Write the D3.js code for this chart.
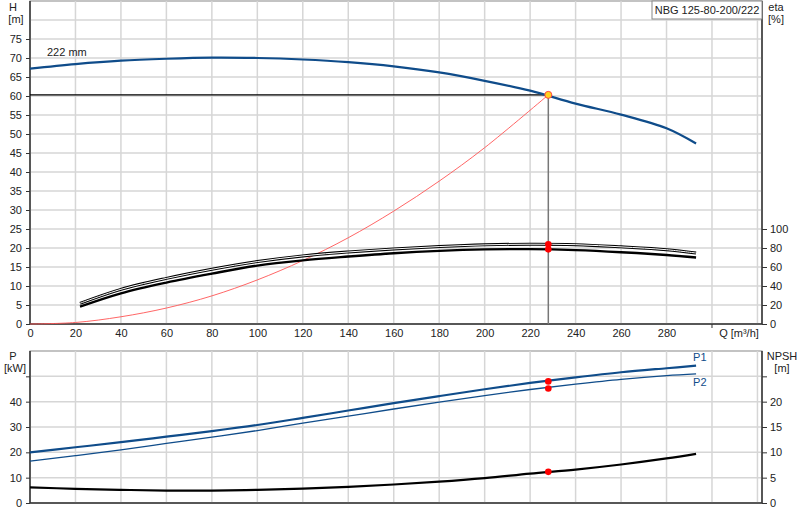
<!DOCTYPE html><html><head><meta charset="utf-8">
<script src="https://cdn.jsdelivr.net/npm/d3@7"></script>
<style>body{margin:0;background:#fff}text{font-family:"Liberation Sans",Arial,sans-serif;font-size:11px;fill:#222}</style>
</head><body><svg id="c" width="800" height="520"></svg>
<script>
const qH=[0,20,40,60,80,100,120,140,160,180,200,220,240,260,280,293];
const H=[67.2,68.4,69.3,69.8,70.1,70.0,69.6,68.9,67.8,66.2,64.0,61.4,58.0,55.1,51.5,47.5];
const qSys=[0,20,40,60,80,100,120,140,160,180,200,228];
const Hsys=[0,0.4,1.9,4.2,7.4,11.6,16.7,22.7,29.7,37.6,46.4,60.3];
const qEta=[22,40,60,80,100,120,140,160,180,200,220,240,260,280,293];
const etaUp=[21.8,36.5,48,57.6,65.7,71.7,75.8,79,81.5,83.3,84,83.5,81.2,78.2,74.7];
const etaLo=[18.3,32.3,43.6,53,61.5,67,71,74.5,77,78.5,78.8,77.8,75.6,72.6,70];
const qP=[0,20,40,60,80,100,120,140,160,180,200,220,240,260,280,293];
const P1=[20,22,24,26.2,28.4,30.8,33.6,36.5,39.4,42.2,44.9,47.4,49.6,51.6,53.2,54.2];
const P2=[16.5,18.7,21,23.5,26,28.6,31.5,34.3,37.1,39.8,42.4,44.8,46.9,48.8,50.3,51];
const qN=[0,20,40,60,80,100,120,140,160,180,200,220,240,260,280,293];
const NPSH=[3.1,2.8,2.6,2.45,2.45,2.6,2.85,3.2,3.65,4.2,4.9,5.8,6.6,7.6,8.8,9.7];
const op={q:228,h:60.3,etaU:84,etaL:78.6,p1:48,p2:45.2,npsh:6.15};
const qTicks=[0,20,40,60,80,100,120,140,160,180,200,220,240,260,280];
const title="NBG 125-80-200/222";

const svg=d3.select("#c");
const L=30,R=762;
const x=d3.scaleLinear().domain([0,322]).range([L,R]);
const yH=d3.scaleLinear().domain([0,85]).range([324,1]);
const yE=d3.scaleLinear().domain([0,340]).range([324,1]);
const yP=d3.scaleLinear().domain([0,60]).range([503,351]);
const yN=d3.scaleLinear().domain([0,30]).range([503,351]);
const grid="#d6d6d6";
function panel(y0,y1,ys,step,max){
  const g=svg.append("g");
  g.append("rect").attr("x",L).attr("y",y0).attr("width",R-L).attr("height",y1-y0).attr("fill","none").attr("stroke","#888");
  d3.range(20,321,20).forEach(v=>g.append("line").attr("x1",x(v)).attr("x2",x(v)).attr("y1",y0).attr("y2",y1).attr("stroke",grid).attr("stroke-width",1.5));
  d3.range(step,max+0.1,step).forEach(v=>g.append("line").attr("x1",L).attr("x2",R).attr("y1",ys(v)).attr("y2",ys(v)).attr("stroke",grid).attr("stroke-width",1.5));
  g.append("line").attr("x1",L).attr("x2",L).attr("y1",y0).attr("y2",y1).attr("stroke","#333").attr("stroke-width",1.5);
  g.append("line").attr("x1",R).attr("x2",R).attr("y1",y0).attr("y2",y1).attr("stroke","#333").attr("stroke-width",1.5);
  g.append("line").attr("x1",L).attr("x2",R).attr("y1",y1).attr("y2",y1).attr("stroke","#333").attr("stroke-width",1.5);
}
panel(1,324,yH,5,80);
panel(351,503,yP,10,50);
const ax=(g)=>{g.select(".domain").remove();g.selectAll("line").attr("stroke","#333");g.selectAll("text").style("font-size","11px");};
svg.append("g").attr("transform",`translate(${L},0)`).call(d3.axisLeft(yH).tickValues(d3.range(0,76,5)).tickSize(4).tickPadding(4)).call(ax);
svg.append("g").attr("transform",`translate(${R},0)`).call(d3.axisRight(yE).tickValues([0,20,40,60,80,100]).tickSize(5).tickPadding(3)).call(ax);
svg.append("g").attr("transform",`translate(0,324)`).call(d3.axisBottom(x).tickValues(qTicks).tickSize(0).tickPadding(5)).call(ax);
svg.append("line").attr("x1",x(300)).attr("x2",x(300)).attr("y1",324).attr("y2",328).attr("stroke","#333");
svg.append("g").attr("transform",`translate(${L},0)`).call(d3.axisLeft(yP).tickValues([0,10,20,30,40,50]).tickFormat(d=>d==50?"":d).tickSize(4).tickPadding(4)).call(ax);
svg.append("g").attr("transform",`translate(${R},0)`).call(d3.axisRight(yN).tickValues([0,5,10,15,20,25]).tickFormat(d=>d==25?"":d).tickSize(5).tickPadding(3)).call(ax);
const t=(s,xx,yy,a)=>svg.append("text").attr("x",xx).attr("y",yy).attr("text-anchor",a||"middle").text(s);
t("H",13,11);t("[m]",16,23);t("eta",776,11);t("[%]",776,23);
t("Q [m³/h]",739,337);t("P",13,360);t("[kW]",15,372);t("NPSH",782,360);t("[m]",782,372);
svg.append("rect").attr("x",652).attr("y",1).attr("width",110).attr("height",18).attr("fill","#fff").attr("stroke","#888");
t(title,707,14);
t("222 mm",47,56,"start");
const line=(xs,ys,sx,sy)=>d3.line().curve(d3.curveCatmullRom.alpha(0.5)).x((d,i)=>sx(xs[i])).y(d=>sy(d))(ys);
svg.append("line").attr("x1",L).attr("x2",x(op.q)).attr("y1",yH(op.h)).attr("y2",yH(op.h)).attr("stroke","#000").attr("stroke-width",1.2);
svg.append("line").attr("x1",x(op.q)).attr("x2",x(op.q)).attr("y1",yH(op.h)).attr("y2",324).attr("stroke","#777").attr("stroke-width",1.5);
svg.append("path").attr("d",line(qSys,Hsys,x,yH)).attr("fill","none").attr("stroke","#f55").attr("stroke-width",0.9);
svg.append("path").attr("d",line(qH,H,x,yH)).attr("fill","none").attr("stroke","#0f4c8a").attr("stroke-width",2.2);
svg.append("path").attr("d",line(qEta,etaUp,x,yE)).attr("fill","none").attr("stroke","#000").attr("stroke-width",3);
svg.append("path").attr("d",line(qEta,etaUp,x,yE)).attr("fill","none").attr("stroke","#fff").attr("stroke-width",1);
svg.append("path").attr("d",line(qEta,etaLo,x,yE)).attr("fill","none").attr("stroke","#000").attr("stroke-width",2.4);
svg.append("path").attr("d",line(qP,P1,x,yP)).attr("fill","none").attr("stroke","#0f4c8a").attr("stroke-width",2.2);
svg.append("path").attr("d",line(qP,P2,x,yP)).attr("fill","none").attr("stroke","#0f4c8a").attr("stroke-width",1.3);
svg.append("path").attr("d",line(qN,NPSH,x,yN)).attr("fill","none").attr("stroke","#000").attr("stroke-width",2.2);
svg.append("circle").attr("cx",x(op.q)).attr("cy",yH(op.h)).attr("r",3.5).attr("fill","#ffd21f").attr("stroke","#f44");
[[yE,op.etaU],[yE,op.etaL],[yP,op.p1],[yP,op.p2],[yN,op.npsh]].forEach(([s,v])=>svg.append("circle").attr("cx",x(op.q)).attr("cy",s(v)).attr("r",3.3).attr("fill","#f00"));
svg.append("text").attr("x",x(293)-3).attr("y",yP(54.2)-5).style("fill","#0f4c8a").text("P1");
svg.append("text").attr("x",x(293)-3).attr("y",yP(51)+12).style("fill","#0f4c8a").text("P2");
</script></body></html>
